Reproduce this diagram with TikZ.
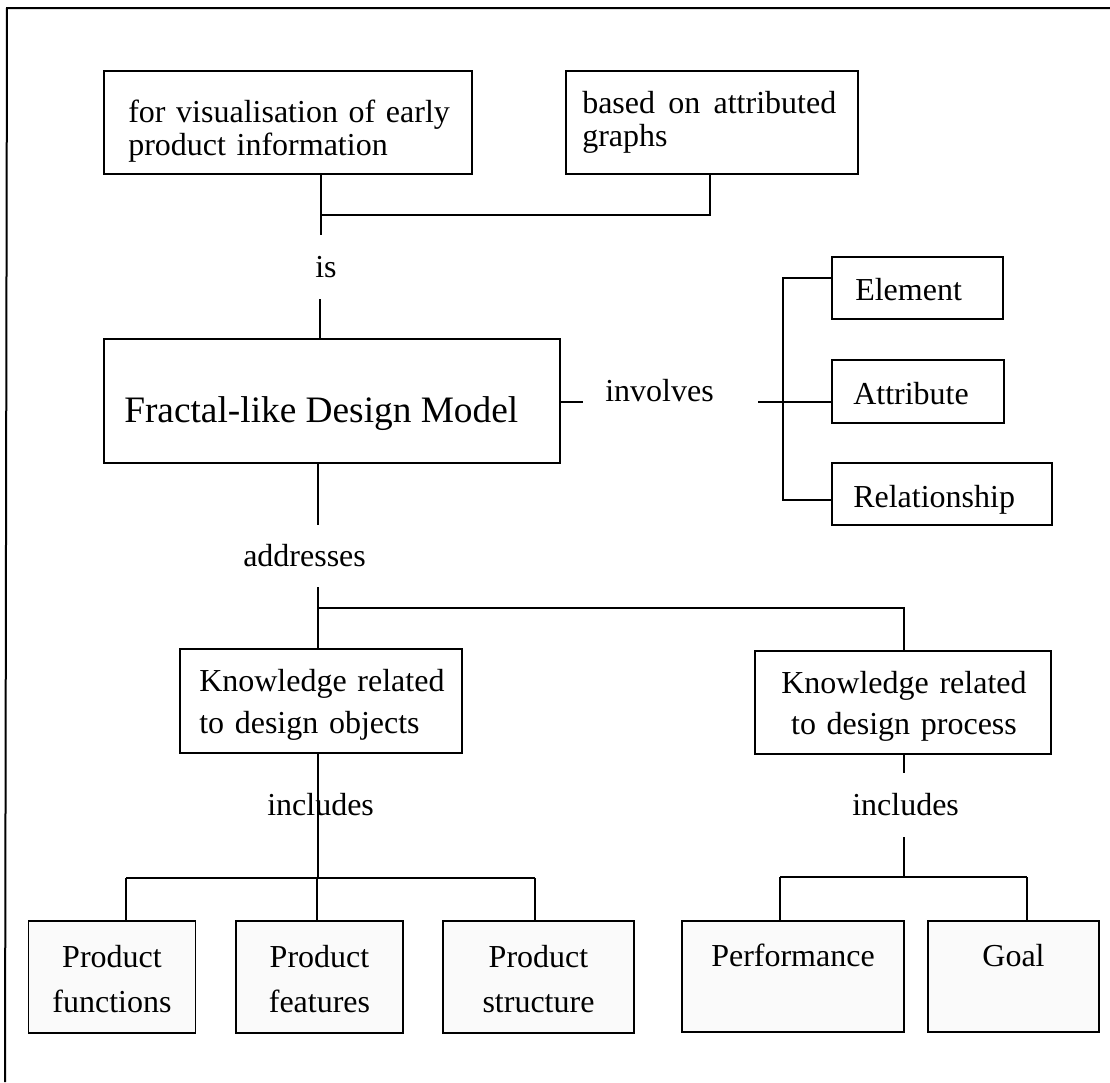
\documentclass[tikz,border=0pt]{standalone}
\usepackage{fontspec}
\setmainfont{Liberation Serif}
\begin{document}
\begin{tikzpicture}[x=0.75pt,y=-0.75pt,
  box/.style={draw,line width=1.4pt,inner sep=0pt,rectangle},
  sbox/.style={box,fill=black!2},
  txt/.style={inner sep=0pt,font=\fontsize{24}{24.75}\selectfont},
  ln/.style={line width=1.4pt},
  frame/.style={line width=1.5pt}]
\useasboundingbox (0,0) rectangle (1110,1082);
% frame
\draw[frame] (1110,8) -- (7,8) -- (5,1082);
% boxes
\node[box,minimum width=276pt,minimum height=77.25pt] (b1) at (288,122.5) {};
\node[box,minimum width=219pt,minimum height=77.25pt] (b2) at (712,122.5) {};
\node[box,minimum width=342pt,minimum height=93pt] (fdm) at (332,401) {};
\node[box,minimum width=128.25pt,minimum height=46.5pt] (el) at (917.5,288) {};
\node[box,minimum width=129pt,minimum height=47.25pt] (at) at (918,391.5) {};
\node[box,minimum width=165pt,minimum height=46.5pt] (rel) at (942,494) {};
\node[box,minimum width=211.5pt,minimum height=78pt] (kobj) at (321,701) {};
\node[box,minimum width=222pt,minimum height=77.25pt] (kproc) at (903,702.5) {};
\node[sbox,minimum width=125.25pt,minimum height=84pt] (pfun) at (112,977) {};
\node[sbox,minimum width=125.25pt,minimum height=84pt] (pfea) at (319.5,977) {};
\node[sbox,minimum width=143.25pt,minimum height=84pt] (pstr) at (538.5,977) {};
\node[sbox,minimum width=166.5pt,minimum height=83.25pt] (perf) at (793,976.5) {};
\node[sbox,minimum width=128.25pt,minimum height=83.25pt] (goal) at (1013.5,976.5) {};
% box texts
\node[txt,anchor=base west,text width=300pt,align=left] (b1t) at (128,122.7) {for visualisation of early\\product information};
\node[txt,anchor=base west,text width=200pt,align=left] (b2t) at (582,113.3) {\makebox[190.5pt][l]{based\hfill on\hfill attributed}\\graphs};
\node[inner sep=0pt,anchor=base west,font=\fontsize{28}{30}\selectfont] (fdmt) at (124,422) {Fractal-like Design Model};
\node[txt,anchor=base west] (elt) at (855,300.7) {Element};
\node[txt,anchor=base west] (att) at (853,404) {Attribute};
\node[txt,anchor=base west] (relt) at (853,507) {Relationship};
\node[txt,anchor=base west,text width=200pt,align=left,font=\fontsize{24}{31.2}\selectfont] (kobjt) at (199,691.7) {Knowledge related\\to design objects};
\node[txt,anchor=base,text width=200pt,align=center,font=\fontsize{24}{31.2}\selectfont] (kproct) at (904,693) {Knowledge related\\to design process};
\node[txt,anchor=base,text width=110pt,align=center,font=\fontsize{24}{33.4}\selectfont] (pfunt) at (112,967.5) {Product\\functions};
\node[txt,anchor=base,text width=110pt,align=center,font=\fontsize{24}{33.4}\selectfont] (pfeat) at (319.5,967.5) {Product\\features};
\node[txt,anchor=base,text width=120pt,align=center,font=\fontsize{24}{33.4}\selectfont] (pstrt) at (538.5,967.5) {Product\\structure};
\node[txt,anchor=base] (perft) at (793,966) {Performance};
\node[txt,anchor=base] (goalt) at (1013.5,966) {Goal};
% connector labels
\node[txt,anchor=base] (is) at (326,277) {is};
\node[txt,anchor=base west] (inv) at (605,401.7) {involves};
\node[txt,anchor=base west] (addr) at (243,566.7) {addresses};
\node[txt,anchor=base west] (inc1) at (267,815) {includes};
\node[txt,anchor=base west] (inc2) at (852,815) {includes};
% coordinates
\coordinate (j1) at (321,215);
\coordinate (j2) at (710,215);
\coordinate (isTop) at (321,235);
\coordinate (isBot) at (320,299);
\coordinate (inv1) at (583,401.7);
\coordinate (inv2) at (758,401.7);
\coordinate (bt) at (782.7,278);
\coordinate (bb) at (782.7,500);
\coordinate (a1) at (318,525);
\coordinate (a2) at (318,587);
\coordinate (a3) at (318,608);
\coordinate (a4) at (904,608);
\coordinate (o1) at (318,878);
\coordinate (h1) at (126,878);
\coordinate (h2) at (317,878);
\coordinate (h3) at (535,878);
\coordinate (p0) at (904,773);
\coordinate (p1) at (904,837);
\coordinate (p2) at (904,877);
\coordinate (g1) at (780,877);
\coordinate (g2) at (1026.7,877);
% connectors
\draw[ln] (j1 |- b1.south) -- (j1) -- (j2) -- (j2 |- b2.south);
\draw[ln] (j1) -- (isTop);
\draw[ln] (isBot) -- (isBot |- fdm.north);
\draw[ln] (fdm.east |- inv1) -- (inv1);
\draw[ln] (inv2) -- (at.west |- inv2);
\draw[ln] (el.west |- bt) -- (bt) -- (bb) -- (rel.west |- bb);
\draw[ln] (a1 |- fdm.south) -- (a1);
\draw[ln] (a2) -- (a3) -- (a4) -- (a4 |- kproc.north);
\draw[ln] (a3) -- (a3 |- kobj.north);
\draw[ln] (o1 |- kobj.south) -- (o1);
\draw[ln] (h1) -- (h3);
\draw[ln] (h1) -- (h1 |- pfun.north);
\draw[ln] (h2) -- (h2 |- pfea.north);
\draw[ln] (h3) -- (h3 |- pstr.north);
\draw[ln] (p0 |- kproc.south) -- (p0);
\draw[ln] (p1) -- (p2);
\draw[ln] (g1) -- (g2);
\draw[ln] (g1) -- (g1 |- perf.north);
\draw[ln] (g2) -- (g2 |- goal.north);
\end{tikzpicture}
\end{document}
